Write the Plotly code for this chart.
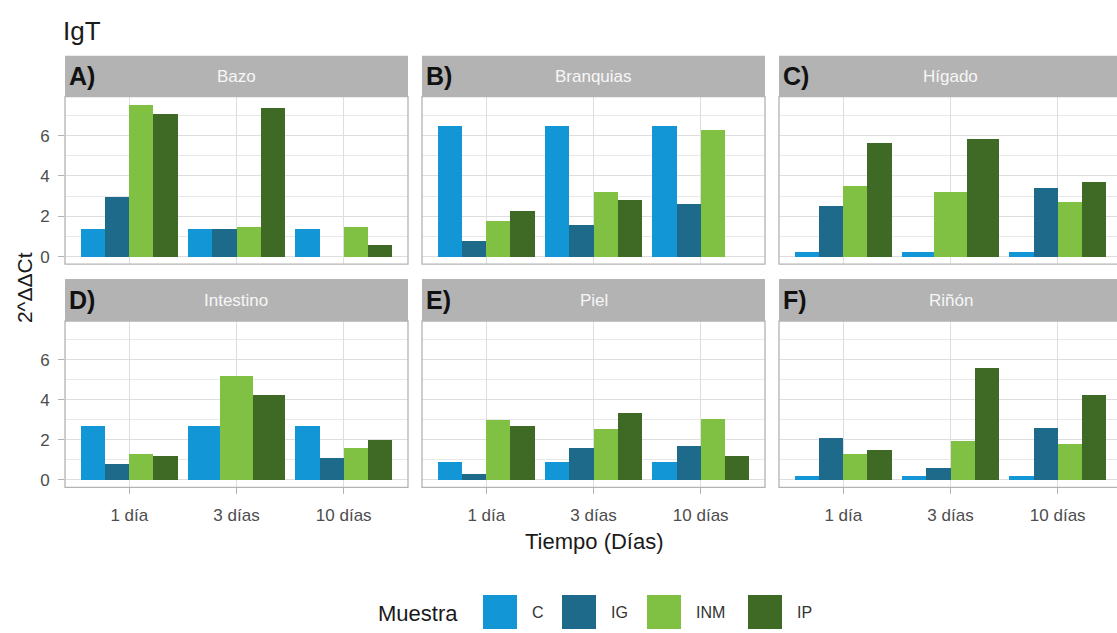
import plotly.graph_objects as go

# ---- data -------------------------------------------------------------
dias = ["1 día", "3 días", "10 días"]
muestras = ["C", "IG", "INM", "IP"]
tejidos = ["Bazo", "Branquias", "Hígado", "Intestino", "Piel", "Riñón"]
letras = ["A)", "B)", "C)", "D)", "E)", "F)"]

# 2^ΔΔCt values per tissue, one list per sample (order of `dias`);
# None = sample absent at that time point
bazo = {"C": [1.40, 1.40, 1.40], "IG": [2.96, 1.40, 0.0],
        "INM": [7.56, 1.48, 1.50], "IP": [7.11, 7.39, 0.61]}
branquias = {"C": [6.52, 6.52, 6.52], "IG": [0.77, 1.59, 2.63],
             "INM": [1.76, 3.23, 6.32], "IP": [2.27, 2.84, 0.0]}
higado = {"C": [0.22, 0.22, 0.22], "IG": [2.55, None, 3.43],
          "INM": [3.53, 3.23, 2.74], "IP": [5.66, 5.86, 3.73]}
intestino = {"C": [2.70, 2.70, 2.70], "IG": [0.80, None, 1.08],
             "INM": [1.29, 5.19, 1.58], "IP": [1.21, 4.23, 1.99]}
piel = {"C": [0.91, 0.91, 0.91], "IG": [0.32, 1.58, 1.67],
        "INM": [2.97, 2.54, 3.05], "IP": [2.67, 3.35, 1.19]}
rinon = {"C": [0.22, 0.22, 0.22], "IG": [2.07, 0.61, 2.57],
         "INM": [1.29, 1.96, 1.79], "IP": [1.49, 5.60, 4.23]}

paneles = [bazo, branquias, higado, intestino, piel, rinon]

# ---- styling ----------------------------------------------------------
colores = {"C": "#1396d5", "IG": "#1e6a8b", "INM": "#80c043", "IP": "#3e6a25"}
FONT = "Liberation Sans, Arial, sans-serif"
GRIS_TEXTO = "#4d4d4d"
GRIS_BORDE = "#b3b3b3"

W, H = 1117, 633
COL_LEFT = [65, 422, 779]
PANEL_W = 343
ROW_TOP = [97, 322]
ROW_BOT = [265, 489]
STRIP_TOP = [56, 280]
DODGE = 0.9
X_LO, X_HI = -0.6, 2.6


def fx(px):
    return px / W


def fy(py):
    return 1 - py / H


ymax = max(v for p in paneles for s in p.values() for v in s if v is not None)
y_range = [-0.05 * ymax, 1.05 * ymax]
px_per_unit = PANEL_W / (X_HI - X_LO)

fig = go.Figure()
shapes = []
annotations = []

for i, (tejido, datos) in enumerate(zip(tejidos, paneles)):
    r, c = divmod(i, 3)
    n = i + 1
    xa = "x" if n == 1 else f"x{n}"
    ya = "y" if n == 1 else f"y{n}"

    left = COL_LEFT[c]
    right = min(left + PANEL_W, W)
    x_hi = X_LO + (right - left) / px_per_unit

    # dodge: bars in each time point share the 0.9 slot among present samples
    presentes = [[m for m in muestras if datos[m][k] is not None] for k in range(3)]
    for m in muestras:
        xs, ys, ws, offs = [], [], [], []
        for k in range(3):
            v = datos[m][k]
            if v is None:
                continue
            nk = len(presentes[k])
            w = DODGE / nk
            xs.append(k)
            ys.append(v)
            ws.append(w)
            offs.append(-DODGE / 2 + presentes[k].index(m) * w)
        fig.add_trace(go.Bar(
            x=xs, y=ys, width=ws, offset=offs, name=m,
            marker=dict(color=colores[m], line=dict(width=0)),
            xaxis=xa, yaxis=ya, showlegend=False,
        ))

    fig.layout[xa.replace("x", "xaxis")] = dict(
        domain=[fx(left), fx(right)], anchor=ya, range=[X_LO, x_hi],
        tickvals=[0, 1, 2], ticktext=dias, showticklabels=(r == 1),
        ticks="outside" if r == 1 else "", ticklen=6, tickcolor=GRIS_BORDE,
        ticklabelstandoff=6,
        showgrid=True, gridcolor="#dedede", gridwidth=1.2,
        zeroline=False, showline=False, fixedrange=True,
        tickfont=dict(family=FONT, size=17, color=GRIS_TEXTO),
    )
    fig.layout[ya.replace("y", "yaxis")] = dict(
        domain=[fy(ROW_BOT[r]), fy(ROW_TOP[r])], anchor=xa, range=y_range,
        tickvals=[0, 2, 4, 6], showticklabels=(c == 0),
        ticks="outside" if c == 0 else "", ticklen=6, tickcolor=GRIS_BORDE,
        ticklabelstandoff=5,
        showgrid=True, gridcolor="#dedede", gridwidth=1.2,
        minor=dict(tickvals=[1, 3, 5, 7], showgrid=True,
                   gridcolor="#e8e8e8", gridwidth=1),
        zeroline=False, showline=False, fixedrange=True,
        tickfont=dict(family=FONT, size=17, color=GRIS_TEXTO),
    )

    # panel border
    shapes.append(dict(type="rect", xref="paper", yref="paper",
                       x0=fx(left), x1=fx(left + PANEL_W),
                       y0=fy(ROW_BOT[r]), y1=fy(ROW_TOP[r]),
                       line=dict(color=GRIS_BORDE, width=1.3), layer="above"))
    # strip
    shapes.append(dict(type="rect", xref="paper", yref="paper",
                       x0=fx(left), x1=fx(left + PANEL_W),
                       y0=fy(ROW_TOP[r]), y1=fy(STRIP_TOP[r]),
                       fillcolor="#b3b3b3", line=dict(width=0)))
    strip_mid = (STRIP_TOP[r] + ROW_TOP[r]) / 2
    annotations.append(dict(text=tejido, xref="paper", yref="paper",
                            x=fx(left + PANEL_W / 2), y=fy(strip_mid),
                            xanchor="center", yanchor="middle", showarrow=False,
                            font=dict(family=FONT, size=17, color="#f7f7f7")))
    annotations.append(dict(text=f"<b>{letras[i]}</b>", xref="paper", yref="paper",
                            x=fx(left + 2), y=fy(strip_mid), xanchor="left",
                            yanchor="middle", showarrow=False,
                            font=dict(family=FONT, size=25, color="#111111")))

# titles
annotations.append(dict(text="IgT", xref="paper", yref="paper", x=fx(61), y=fy(31),
                        xanchor="left", yanchor="middle", showarrow=False,
                        font=dict(family=FONT, size=26, color="#1a1a1a")))
annotations.append(dict(text="Tiempo (Días)", xref="paper", yref="paper",
                        x=fx(594), y=fy(543), xanchor="center", yanchor="middle",
                        showarrow=False, font=dict(family=FONT, size=22, color="#1a1a1a")))
annotations.append(dict(text="2^ΔΔCt", xref="paper", yref="paper",
                        x=fx(24), y=fy(289), xanchor="center", yanchor="middle",
                        textangle=-90, showarrow=False,
                        font=dict(family=FONT, size=21, color="#1a1a1a")))

# legend
annotations.append(dict(text="Muestra", xref="paper", yref="paper", x=fx(376), y=fy(615),
                        xanchor="left", yanchor="middle", showarrow=False,
                        font=dict(family=FONT, size=22, color="#1a1a1a")))
KEY_LEFT = [483, 562, 647, 748]
KEY_SIZE = 34
KEY_TOP = 597
for m, kx in zip(muestras, KEY_LEFT):
    shapes.append(dict(type="rect", xref="paper", yref="paper",
                       x0=fx(kx), x1=fx(kx + KEY_SIZE),
                       y0=fy(KEY_TOP + KEY_SIZE), y1=fy(KEY_TOP),
                       fillcolor=colores[m], line=dict(width=0)))
    annotations.append(dict(text=m, xref="paper", yref="paper",
                            x=fx(kx + KEY_SIZE + 13), y=fy(KEY_TOP + KEY_SIZE / 2),
                            xanchor="left", yanchor="middle", showarrow=False,
                            font=dict(family=FONT, size=16, color="#333333")))

fig.update_layout(
    width=W, height=H, autosize=False,
    margin=dict(l=0, r=0, t=0, b=0),
    paper_bgcolor="white", plot_bgcolor="white",
    barmode="overlay", bargap=0,
    shapes=shapes, annotations=annotations,
    showlegend=False,
)

fig.write_html("out.html", config={"displayModeBar": False})
